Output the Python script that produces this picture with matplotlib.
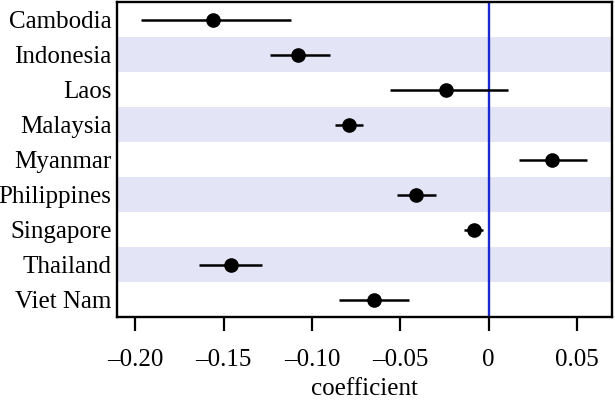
import numpy as np
import matplotlib
matplotlib.use("Agg")
import matplotlib.pyplot as plt

countries = ["Cambodia", "Indonesia", "Laos", "Malaysia", "Myanmar",
             "Philippines", "Singapore", "Thailand", "Viet Nam"]
coef = [-0.156, -0.108, -0.024, -0.079, 0.036, -0.041, -0.0085, -0.146, -0.065]
ci_low = [-0.197, -0.124, -0.056, -0.087, 0.017, -0.052, -0.0137, -0.164, -0.0845]
ci_high = [-0.112, -0.090, 0.011, -0.071, 0.056, -0.030, -0.003, -0.128, -0.045]
xticks = [-0.20, -0.15, -0.10, -0.05, 0, 0.05]
xticklabels = ["\u20130.20", "\u20130.15", "\u20130.10", "\u20130.05", "0", "0.05"]

serif = ['Liberation Serif', 'DejaVu Serif']
plt.rcParams['font.family'] = serif
plt.rcParams['font.size'] = 18

fig = plt.figure(figsize=(6.15, 4.0), dpi=100)
ax = fig.add_axes([0.1902, 0.2075, 0.8057, 0.7875])

y = np.arange(len(countries))

# shaded bands on every other row
for i in y:
    if i % 2 == 1:
        ax.axhspan(i - 0.5, i + 0.5, color="#e3e4f6", lw=0, zorder=0)

ax.axvline(0, color="#1a2ad0", lw=1.7, zorder=1)
ax.hlines(y, ci_low, ci_high, color="black", lw=1.8, zorder=2)
ax.plot(coef, y, "o", color="black", ms=9.5, zorder=3)

ax.set_ylim(len(countries) - 0.5, -0.5)
ax.set_xlim(-0.2104, 0.0702)
ax.set_yticks(y)
ax.set_yticklabels(countries, family=serif)
ax.tick_params(axis="y", length=0, pad=4)
ax.set_xticks(xticks)
ax.set_xticklabels(xticklabels, family=serif)
ax.tick_params(axis="x", length=10, width=1.6, pad=13)
ax.set_xlabel("coefficient", family=serif, labelpad=5)

for s in ax.spines.values():
    s.set_linewidth(1.7)

fig.savefig("out.png", dpi=100)
